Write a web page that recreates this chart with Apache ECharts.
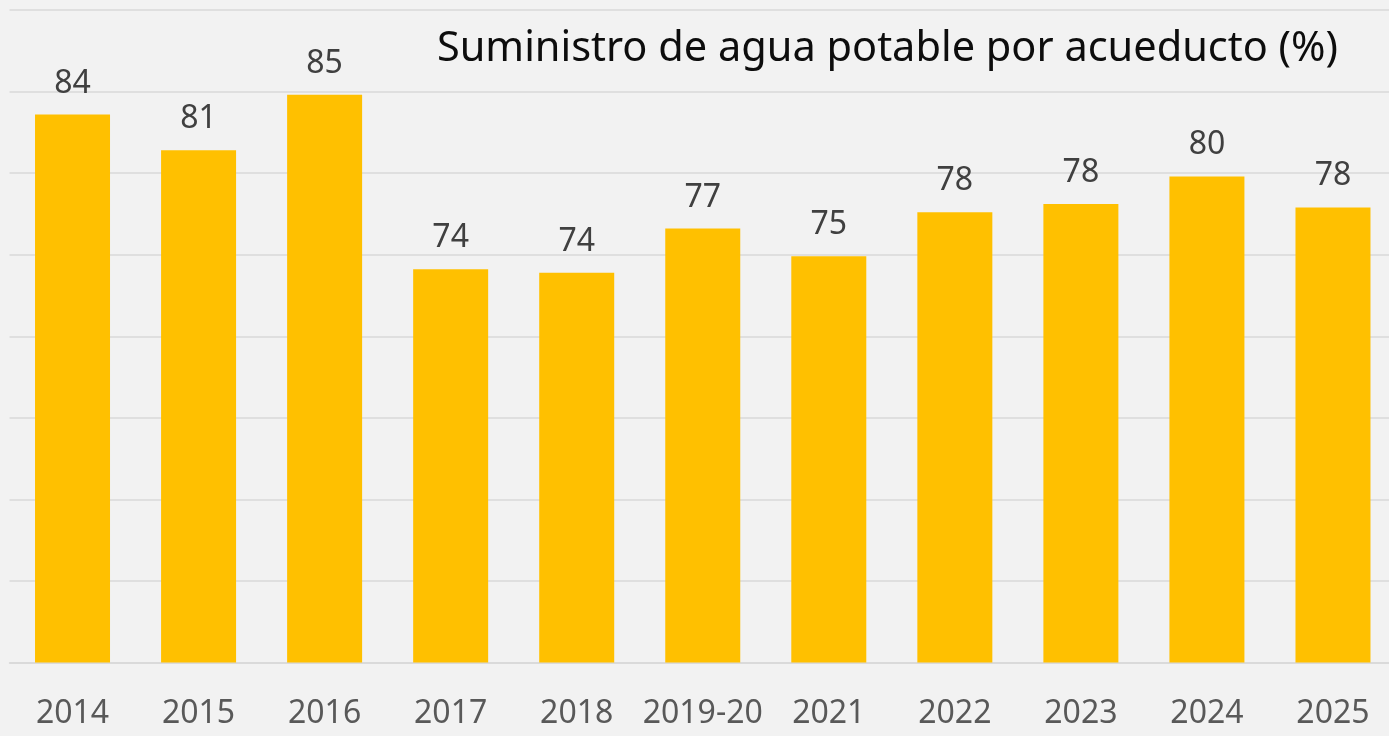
<!DOCTYPE html>
<html>
<head>
<meta charset="utf-8">
<script src="https://cdn.jsdelivr.net/npm/echarts@6/dist/echarts.min.js"></script>
<style>
html,body{margin:0;padding:0;background:#f2f2f2;overflow:hidden;}
#chart{width:1396px;height:736px;}
</style>
</head>
<body>
<div id="chart"></div>
<script>
const categories = ['2014','2015','2016','2017','2018','2019-20','2021','2022','2023','2024','2025'];
const values = [83.6, 81.4, 84.8, 74.1, 73.9, 76.6, 74.9, 77.6, 78.1, 79.8, 77.9];
const titleText = 'Suministro de agua potable por acueducto (%)';

const chart = echarts.init(document.getElementById('chart'));
chart.setOption({
  backgroundColor: '#f2f2f2',
  animation: false,
  title: {
    text: titleText,
    right: 53,
    top: 23,
    textStyle: { fontFamily: 'Noto Sans', fontSize: 41.5, fontWeight: 'normal', color: '#0d0d0d' }
  },
  grid: { left: 9.5, top: 10, right: 0, height: 652.5, containLabel: false },
  xAxis: {
    type: 'category',
    data: categories,
    axisLine: { lineStyle: { color: '#d9d9d9', width: 1.5 } },
    axisTick: { show: false },
    axisLabel: { interval: 0, fontFamily: 'Noto Sans', fontSize: 32, color: '#595959', margin: 35 }
  },
  yAxis: {
    type: 'value',
    min: 50, max: 90, interval: 5,
    axisLabel: { show: false },
    axisLine: { show: false },
    axisTick: { show: false },
    splitLine: { lineStyle: { color: '#d9d9d9', width: 1.5 } }
  },
  series: [{
    type: 'bar',
    data: values,
    barWidth: 75,
    itemStyle: { color: '#ffc000' },
    label: {
      show: true,
      position: 'top',
      distance: 15,
      fontFamily: 'Noto Sans',
      fontSize: 32,
      color: '#404040',
      formatter: p => Math.round(p.value)
    }
  }]
});
</script>
</body>
</html>
